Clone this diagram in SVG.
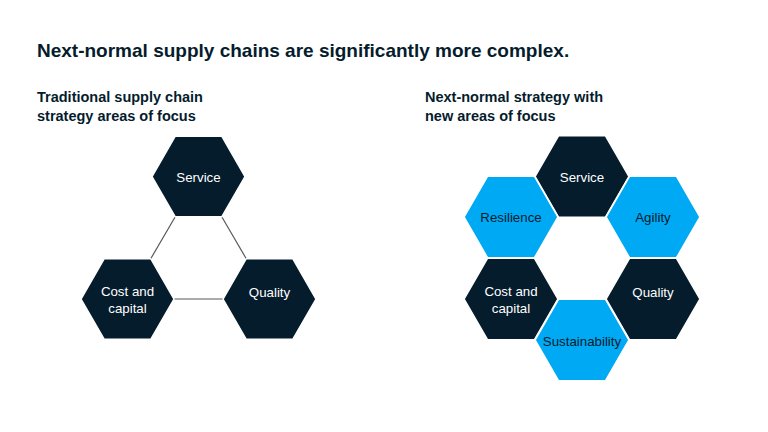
<svg xmlns="http://www.w3.org/2000/svg" xmlns:xlink="http://www.w3.org/1999/xlink" width="768" height="432" viewBox="0 0 768 432">
<style>
.title{font-family:"Liberation Sans",Arial,sans-serif;font-weight:bold;font-size:19px;fill:#051c2c}
.sub{font-family:"Liberation Sans",Arial,sans-serif;font-weight:bold;font-size:14.5px;fill:#051c2c}
.lbl{font-family:"Liberation Sans",Arial,sans-serif;font-size:13.3px;text-anchor:middle}
.dk{fill:#051c2c;stroke:#ffffff;stroke-width:1.5}
.bl{fill:#00a9f4;stroke:#ffffff;stroke-width:1.5}
.wt{fill:#ffffff}
.nv{fill:#051c2c}
.conn{stroke:#555a5e;stroke-width:1.2;fill:none}
</style>
<defs>
<polygon id="hexL" points="-46.5,0 -23.25,-40.27 23.25,-40.27 46.5,0 23.25,40.27 -23.25,40.27"/>
<polygon id="hexR" points="-47,0 -23.5,-40.7 23.5,-40.7 47,0 23.5,40.7 -23.5,40.7"/>
</defs>
<rect width="768" height="432" fill="#ffffff"/>
<text class="title" x="37" y="57">Next-normal supply chains are significantly more complex.</text>
<text class="sub" x="37" y="102">Traditional supply chain</text>
<text class="sub" x="37" y="121">strategy areas of focus</text>
<text class="sub" x="425" y="102">Next-normal strategy with</text>
<text class="sub" x="425" y="121">new areas of focus</text>
<g id="connectors">
<line class="conn" x1="175.25" y1="216.8" x2="150.75" y2="258.7"/>
<line class="conn" x1="221.75" y1="216.8" x2="246.25" y2="258.7"/>
<line class="conn" x1="174" y1="299" x2="223" y2="299"/>
</g>
<g id="left-service"><use href="#hexL" x="198.5" y="176.5" class="dk"/><text class="lbl wt" x="198.5" y="182">Service</text></g>
<g id="left-cost"><use href="#hexL" x="127.5" y="299" class="dk"/><text class="lbl wt" x="127.5" y="296">Cost and</text><text class="lbl wt" x="127.5" y="313">capital</text></g>
<g id="left-quality"><use href="#hexL" x="269.5" y="299" class="dk"/><text class="lbl wt" x="269.5" y="297">Quality</text></g>
<g id="right-service"><use href="#hexR" x="582" y="176.5" class="dk"/><text class="lbl wt" x="582" y="182">Service</text></g>
<g id="right-resilience"><use href="#hexR" x="511" y="217" class="bl"/><text class="lbl nv" x="511" y="222">Resilience</text></g>
<g id="right-agility"><use href="#hexR" x="653" y="217" class="bl"/><text class="lbl nv" x="653" y="222">Agility</text></g>
<g id="right-cost"><use href="#hexR" x="511" y="299" class="dk"/><text class="lbl wt" x="511" y="296">Cost and</text><text class="lbl wt" x="511" y="313">capital</text></g>
<g id="right-quality"><use href="#hexR" x="653" y="299" class="dk"/><text class="lbl wt" x="653" y="297">Quality</text></g>
<g id="right-sustainability"><use href="#hexR" x="582" y="340" class="bl"/><text class="lbl nv" x="582" y="346">Sustainability</text></g>
</svg>
